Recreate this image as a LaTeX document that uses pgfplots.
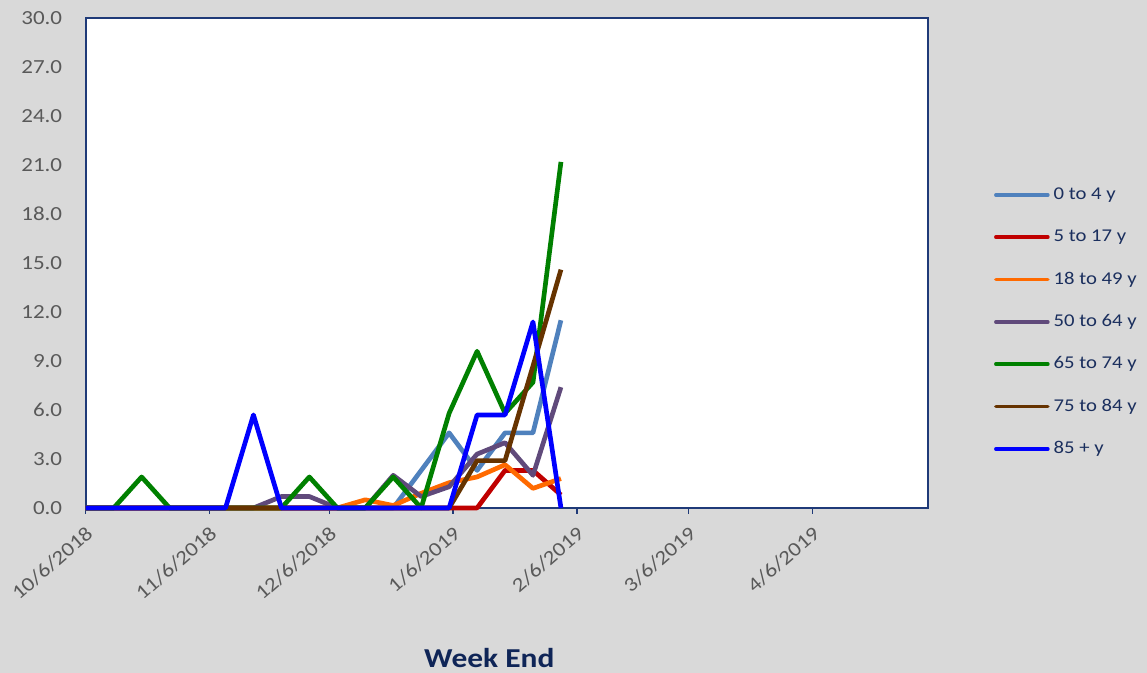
\documentclass[border=0pt]{standalone}
\usepackage{fontspec}
\setmainfont{Carlito}[FakeStretch=1.15]
\usepackage{pgfplots}
\pgfplotsset{compat=1.18}
\definecolor{bg}{HTML}{D9D9D9}
\definecolor{tickgray}{HTML}{595959}
\definecolor{navy}{HTML}{1F3A78}
\definecolor{legnavy}{HTML}{1B2F5E}
\definecolor{titlenavy}{HTML}{0F2557}
\definecolor{cA}{HTML}{4F81BD}
\definecolor{cB}{HTML}{C00000}
\definecolor{cC}{HTML}{FF6A00}
\definecolor{cD}{HTML}{604A7B}
\definecolor{cE}{HTML}{008000}
\definecolor{cF}{HTML}{663300}
\definecolor{cG}{HTML}{0000FF}
\begin{document}
\begin{tikzpicture}
\fill[bg] (-64.3pt,-123.75pt) rectangle (796pt,381pt);
\useasboundingbox (-64.3pt,-123.75pt) rectangle (796pt,381pt);
\begin{axis}[
  at={(0,0)}, anchor=south west,
  scale only axis, width=632pt, height=367.3pt,
  xmin=0, xmax=211, ymin=0, ymax=30,
  axis background/.style={fill=white},
  axis line style={draw=navy, line width=1.5pt},
  xtick={0,31,61,92,123,151,182},
  xticklabels={10/6/2018,11/6/2018,12/6/2018,1/6/2019,2/6/2019,3/6/2019,4/6/2019},
  ytick={0,3,...,30},
  xtick pos=lower, ytick pos=left,
  yticklabel style={/pgf/number format/fixed, /pgf/number format/fixed zerofill, /pgf/number format/precision=1, /pgf/number format/assume math mode=true},
  x tick label style={rotate=41, anchor=east, font=\fontsize{15}{18}\selectfont, text=tickgray, inner sep=0pt, xshift=-5.7pt, yshift=-11.4pt},
  y tick label style={font=\fontsize{15}{18}\selectfont, text=tickgray, inner sep=0pt, xshift=-13pt},
  tick align=outside,
  major tick length=4.5pt,
  xtick style={draw=navy, line width=1pt},
  ytick style={draw=none},
  clip=false,
  xlabel={Week End},
  xlabel style={at={(axis description cs:0.479,-0.306)}, anchor=center, inner sep=0pt, font=\bfseries\fontsize{20.5}{24}\selectfont, text=titlenavy},
  legend style={at={(axis description cs:1.078,0.657)}, anchor=north west, draw=none, fill=none, inner sep=0pt, outer sep=0pt, row sep=18.75pt, column sep=3pt, font=\fontsize{13.5}{15}\selectfont, text=legnavy, nodes={inner sep=0pt, text height=10pt, text depth=3pt}},
  legend cell align=left,
  legend image code/.code={\draw[#1, line width=2.7pt, line cap=round] (0pt,0pt) -- (39pt,0pt);},
  every axis plot/.append style={line width=3.5pt, line join=round, no markers},
]
\addplot[cA] coordinates {(0,0)(7,0)(14,0)(21,0)(28,0)(35,0)(42,0)(49,0)(56,0)(63,0)(70,0)(77,0)(84,2.3)(91,4.6)(98,2.3)(105,4.6)(112,4.6)(119,11.5)};
\addlegendentry{0 to 4 y}
\addplot[cB] coordinates {(0,0)(7,0)(14,0)(21,0)(28,0)(35,0)(42,0)(49,0)(56,0)(63,0)(70,0)(77,0)(84,0)(91,0)(98,0)(105,2.3)(112,2.3)(119,0.8)};
\addlegendentry{5 to 17 y}
\addplot[cC] coordinates {(0,0)(7,0)(14,0)(21,0)(28,0)(35,0)(42,0)(49,0)(56,0)(63,0)(70,0.5)(77,0.15)(84,0.9)(91,1.55)(98,1.9)(105,2.65)(112,1.2)(119,1.8)};
\addlegendentry{18 to 49 y}
\addplot[cD] coordinates {(0,0)(7,0)(14,0)(21,0)(28,0)(35,0)(42,0)(49,0.7)(56,0.7)(63,0)(70,0)(77,2.0)(84,0.7)(91,1.3)(98,3.3)(105,4.0)(112,2.0)(119,7.4)};
\addlegendentry{50 to 64 y}
\addplot[cE] coordinates {(0,0)(7,0)(14,1.9)(21,0)(28,0)(35,0)(42,0)(49,0)(56,1.9)(63,0)(70,0)(77,1.9)(84,0)(91,5.8)(98,9.6)(105,5.8)(112,7.7)(119,21.2)};
\addlegendentry{65 to 74 y}
\addplot[cF] coordinates {(0,0)(7,0)(14,0)(21,0)(28,0)(35,0)(42,0)(49,0)(56,0)(63,0)(70,0)(77,0)(84,0)(91,0)(98,2.9)(105,2.9)(112,8.7)(119,14.6)};
\addlegendentry{75 to 84 y}
\addplot[cG] coordinates {(0,0)(7,0)(14,0)(21,0)(28,0)(35,0)(42,5.7)(49,0)(56,0)(63,0)(70,0)(77,0)(84,0)(91,0)(98,5.7)(105,5.7)(112,11.4)(119,0)};
\addlegendentry{85 + y}
\end{axis}
\end{tikzpicture}
\end{document}
